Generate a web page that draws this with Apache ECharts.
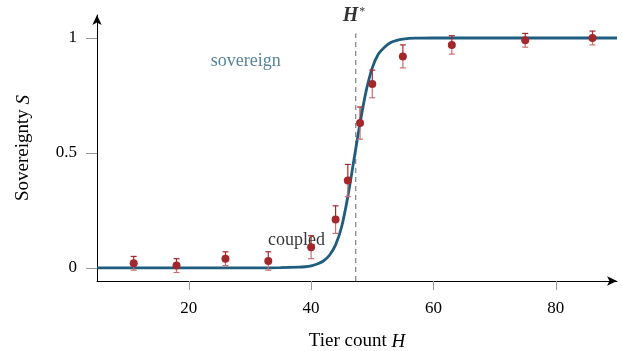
<!DOCTYPE html>
<html>
<head>
<meta charset="utf-8">
<script src="https://cdn.jsdelivr.net/npm/echarts@6/dist/echarts.min.js"></script>
<style>
  html, body { margin: 0; padding: 0; background: #fff; }
  #chart { width: 622px; height: 351px; }
</style>
</head>
<body>
<div id="chart"></div>
<script>
// measured points (tier count H, sovereignty S, error)
const tierCount = [11, 18, 26, 33, 40, 44, 46, 48, 50, 55, 63, 75, 86]
const sovereignty = [0.02, 0.01, 0.04, 0.03, 0.09, 0.21, 0.38, 0.63, 0.80, 0.92, 0.97, 0.99, 1.0]
const errors = [0.03, 0.03, 0.03, 0.04, 0.05, 0.06, 0.07, 0.07, 0.06, 0.05, 0.04, 0.03, 0.03]

// fitted curve
const curveH = [5, 30, 35, 38, 39, 40, 41, 42, 43, 44, 45, 46, 47, 48, 49, 50, 51, 52, 53, 54, 55, 57, 60, 70, 90]
const curveS = [0, 0, 0.001, 0.003, 0.005, 0.009, 0.017, 0.03, 0.055, 0.10, 0.18, 0.31, 0.47, 0.63, 0.77, 0.87, 0.93, 0.96, 0.98, 0.99, 0.995, 0.999, 1, 1, 1]

// critical tier count
const hStar = 47.3

const xTicks = [20, 40, 60, 80]
const yTicks = [0, 0.5, 1]

const serif = 'Liberation Serif'

const chart = echarts.init(document.getElementById('chart'))

const pointData = tierCount.map((h, i) => [h, sovereignty[i], errors[i]])
const curveData = curveH.map((h, i) => [h, curveS[i]])

// error bars: upper half darker, lower half lighter
function renderError(params, api) {
  const h = api.value(0)
  const s = api.value(1)
  const e = api.value(2)
  const mid = api.coord([h, s])
  const top = api.coord([h, s + e])
  const bot = api.coord([h, s - e])
  const cap = 3
  const dark = { stroke: '#a4292c', lineWidth: 1.2 }
  const light = { stroke: '#cc6f71', lineWidth: 1.2 }
  return {
    type: 'group',
    children: [
      { type: 'line', shape: { x1: top[0], y1: top[1], x2: mid[0], y2: mid[1] }, style: dark },
      { type: 'line', shape: { x1: top[0] - cap, y1: top[1], x2: top[0] + cap, y2: top[1] }, style: dark },
      { type: 'line', shape: { x1: mid[0], y1: mid[1], x2: bot[0], y2: bot[1] }, style: light },
      { type: 'line', shape: { x1: bot[0] - cap, y1: bot[1], x2: bot[0] + cap, y2: bot[1] }, style: light }
    ]
  }
}

const option = {
  backgroundColor: '#fff',
  animation: false,
  grid: { left: 97, right: 5, top: 15, bottom: 70, outerBoundsMode: 'none', containLabel: false },
  xAxis: {
    type: 'value',
    min: 5,
    max: 90,
    name: '{t|Tier count }{i|H}',
    nameLocation: 'middle',
    nameGap: 51,
    nameTextStyle: {
      rich: {
        t: { fontFamily: serif, fontSize: 19, color: '#000' },
        i: { fontFamily: serif, fontSize: 19, color: '#000', fontStyle: 'italic' }
      }
    },
    axisLine: { onZero: false, lineStyle: { color: '#000', width: 1 }, symbol: ['none', 'arrow'], symbolSize: [7, 10] },
    axisTick: { show: true, length: 9, customValues: xTicks, lineStyle: { color: '#999' } },
    axisLabel: { customValues: xTicks, margin: 19, fontFamily: serif, fontSize: 17, color: '#000' },
    splitLine: { show: false }
  },
  yAxis: {
    type: 'value',
    min: -0.057,
    max: 1.1,
    name: '{t|Sovereignty }{i|S}',
    nameLocation: 'middle',
    nameGap: 64,
    nameTextStyle: {
      rich: {
        t: { fontFamily: serif, fontSize: 19, color: '#000' },
        i: { fontFamily: serif, fontSize: 19, color: '#000', fontStyle: 'italic' }
      }
    },
    axisLine: { show: true, onZero: false, lineStyle: { color: '#000', width: 1 }, symbol: ['none', 'arrow'], symbolSize: [7, 10] },
    axisTick: { show: true, length: 11, customValues: yTicks, lineStyle: { color: '#999' } },
    axisLabel: { customValues: yTicks, margin: 20, fontFamily: serif, fontSize: 17, color: '#000' },
    splitLine: { show: false }
  },
  series: [
    {
      name: 'H*',
      type: 'line',
      data: [[hStar, -0.057], [hStar, 1.02]],
      symbol: 'none',
      lineStyle: { color: '#666', width: 1, type: [5, 4] },
      z: 1
    },
    {
      name: 'labels',
      type: 'scatter',
      symbolSize: 0,
      silent: true,
      z: 1,
      data: [
        { value: [29.3, 0.9], label: { formatter: 'sovereign', color: '#2b6385' } },
        { value: [37.6, 0.12], label: { formatter: 'coupled', color: '#000' } },
        { value: [47.0, 1.095], label: { formatter: '{h|H}{s|*}' } }
      ],
      label: {
        show: true,
        position: 'inside',
        fontFamily: serif,
        fontSize: 18,
        rich: {
          h: { fontFamily: serif, fontSize: 20, fontStyle: 'italic', fontWeight: 'bold', color: '#000' },
          s: { fontFamily: serif, fontSize: 12, color: '#000', verticalAlign: 'top', padding: [0, 0, 9, 1] }
        }
      }
    },
    {
      name: 'fit',
      type: 'line',
      data: curveData,
      smooth: 0.3,
      symbol: 'none',
      lineStyle: { color: '#1f5c7e', width: 2.8 },
      z: 2
    },
    {
      name: 'errors',
      type: 'custom',
      renderItem: renderError,
      data: pointData,
      encode: { x: 0, y: 1 },
      z: 3
    },
    {
      name: 'points',
      type: 'scatter',
      data: pointData,
      symbolSize: 8,
      itemStyle: { color: '#a3282b', opacity: 1 },
      z: 4
    }
  ]
}

chart.setOption(option)
</script>
</body>
</html>
